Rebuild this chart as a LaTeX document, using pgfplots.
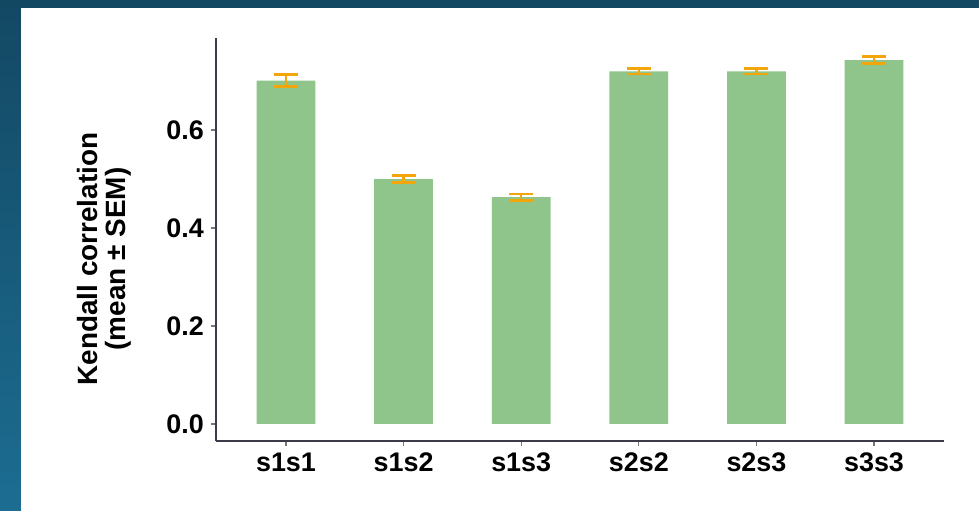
\documentclass[border=0pt]{standalone}
\usepackage{fontspec}
\setmainfont{Liberation Sans}
\usepackage{pgfplots}
\pgfplotsset{compat=1.18}

\definecolor{barfill}{HTML}{8FC58B}
\definecolor{errc}{HTML}{F2A60C}
\definecolor{axc}{HTML}{3C3A48}
\definecolor{bgtop}{HTML}{134863}
\definecolor{bgbot}{HTML}{1C6D92}

\begin{document}
\begin{tikzpicture}[x=1bp,y=1bp]
% slide background and white panel
\shade[top color=bgtop, bottom color=bgbot] (0,0) rectangle (979,511);
\fill[white] (21,0) rectangle (979,503);

\begin{axis}[
	at={(216bp,70bp)}, anchor=south west,
	scale only axis, width=728bp, height=403bp,
	xmin=-0.595, xmax=5.595, ymin=-0.0347, ymax=0.788,
	axis x line*=bottom, axis y line*=left,
	axis line style={axc, line width=1.4bp, -},
	xtick={0,1,2,3,4,5},
	xticklabels={s1s1,s1s2,s1s3,s2s2,s2s3,s3s3},
	ytick={0,0.2,0.4,0.6},
	tick align=outside, major tick length=5bp,
	tick style={axc!70, line width=1.2bp},
	/pgf/number format/assume math mode=true,
	yticklabel style={/pgf/number format/fixed, /pgf/number format/fixed zerofill,
		/pgf/number format/precision=1, xshift=-5bp},
	xticklabel style={yshift=-5bp},
	ticklabel style={font=\fontsize{27}{30}\selectfont\bfseries, inner sep=2bp},
	ylabel={Kendall correlation\\(mean ± SEM)},
	ylabel style={at={(axis description cs:-0.1530,0.4516)}, anchor=center,
		align=center, font=\fontsize{28}{28}\selectfont\bfseries},
	]
\addplot[ybar, bar width=0.5, fill=barfill, draw=none,
	error bars/.cd, y dir=both, y explicit,
	error bar style={errc, line width=2.5bp},
	error mark options={errc, line width=2.5bp, mark size=12bp, rotate=90}]
	coordinates {
	(0,0.701) +- (0,0.012)
	(1,0.500) +- (0,0.007)
	(2,0.463) +- (0,0.007)
	(3,0.720) +- (0,0.0055)
	(4,0.720) +- (0,0.0055)
	(5,0.743) +- (0,0.0075)
	};
\end{axis}
\end{tikzpicture}
\end{document}
